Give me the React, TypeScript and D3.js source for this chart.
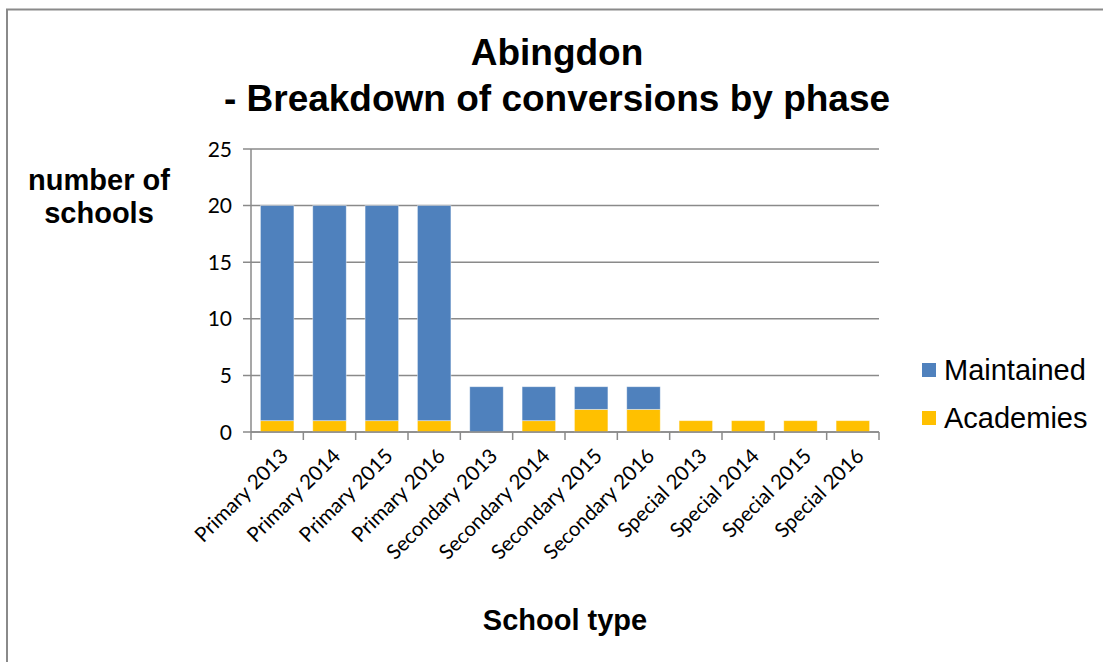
import React from "react";
import * as d3 from "d3";

const categories = [
  "Primary 2013", "Primary 2014", "Primary 2015", "Primary 2016",
  "Secondary 2013", "Secondary 2014", "Secondary 2015", "Secondary 2016",
  "Special 2013", "Special 2014", "Special 2015", "Special 2016",
];
const academies = [1, 1, 1, 1, 0, 1, 2, 2, 1, 1, 1, 1];
const maintained = [19, 19, 19, 19, 4, 3, 2, 2, 0, 0, 0, 0];
const yTicks = [0, 5, 10, 15, 20, 25];
const seriesNames = ["Maintained", "Academies"];
const seriesColors = ["#4F81BD", "#FFC000"];

const W = 1103, H = 662;
const plot = { left: 251, right: 879, top: 149, bottom: 432 };
const GRID = "#8a8a8a";
const ARIAL = "Liberation Sans, Arial, sans-serif";
const TICKFONT = "Lato, Carlito, sans-serif";

export default function App() {
  const x = d3.scaleBand<string>()
    .domain(categories)
    .range([plot.left, plot.right])
    .paddingInner(0.36)
    .paddingOuter(0.18);
  const y = d3.scaleLinear().domain([0, 25]).range([plot.bottom, plot.top]);

  const stackData = categories.map((c, i) => ({ cat: c, Academies: academies[i], Maintained: maintained[i] }));
  const stack = d3.stack<any>().keys(["Academies", "Maintained"])(stackData);
  const colorOf: Record<string, string> = { Maintained: seriesColors[0], Academies: seriesColors[1] };

  const boundaries = d3.range(categories.length + 1).map((i) => plot.left + i * ((plot.right - plot.left) / categories.length));

  return (
    <svg width={W} height={H} style={{ position: "absolute", left: 0, top: 0, background: "#fff" }}>
      <rect x={0} y={0} width={W} height={H} fill="#fff" />
      <rect x={7} y={9.5} width={1300} height={1000} fill="none" stroke={GRID} strokeWidth={2} />
      {/* Title */}
      <text x={557} y={65} textAnchor="middle" fontFamily={ARIAL} fontWeight="bold" fontSize={37}>Abingdon</text>
      <text x={557} y={111} textAnchor="middle" fontFamily={ARIAL} fontWeight="bold" fontSize={37}>- Breakdown of conversions by phase</text>

      {/* Gridlines + y ticks */}
      {yTicks.map((t) => (
        <g key={t}>
          <line x1={plot.left - 8} x2={plot.right} y1={y(t)} y2={y(t)} stroke={GRID} strokeWidth={1.5} />
          <text x={232} y={y(t)} dy="0.36em" textAnchor="end" fontFamily={TICKFONT} fontSize={21} fill="#000">{t}</text>
        </g>
      ))}
      {/* Y axis line */}
      <line x1={plot.left} x2={plot.left} y1={plot.top} y2={plot.bottom} stroke={GRID} strokeWidth={1.5} />

      {/* Bars */}
      {stack.map((s) => (
        <g key={s.key} fill={colorOf[s.key]}>
          {s.map((d, i) => (d[1] - d[0] > 0 ? (
            <rect key={i} x={x(categories[i])!} width={x.bandwidth()} y={y(d[1])} height={y(d[0]) - y(d[1])} stroke="#ffffff" strokeOpacity={0.5} strokeWidth={0.8} />
          ) : null))}
        </g>
      ))}

      {/* X axis */}
      <line x1={plot.left} x2={plot.right} y1={plot.bottom} y2={plot.bottom} stroke={GRID} strokeWidth={1.5} />
      {boundaries.map((bx, i) => (
        <line key={i} x1={bx} x2={bx} y1={plot.bottom} y2={plot.bottom + 8} stroke={GRID} strokeWidth={1.5} />
      ))}
      {categories.map((c) => {
        const cx = x(c)! + x.bandwidth() / 2;
        return (
          <text key={c} transform={`translate(${cx + 7},${plot.bottom + 20}) rotate(-45)`} textAnchor="end" dy="0.36em"
            fontFamily={TICKFONT} fontSize={20.5} fill="#000">{c}</text>
        );
      })}

      {/* Axis titles */}
      <text x={99} y={190} textAnchor="middle" fontFamily={ARIAL} fontWeight="bold" fontSize={29}>number of</text>
      <text x={99} y={223} textAnchor="middle" fontFamily={ARIAL} fontWeight="bold" fontSize={29}>schools</text>
      <text x={565} y={630} textAnchor="middle" fontFamily={ARIAL} fontWeight="bold" fontSize={29}>School type</text>

      {/* Legend */}
      {seriesNames.map((n, i) => (
        <g key={n} transform={`translate(922,${370 + i * 48})`}>
          <rect x={0} y={-7} width={14} height={14} fill={seriesColors[i]} />
          <text x={22} y={0} dy="0.36em" fontFamily={ARIAL} fontSize={29}>{n}</text>
        </g>
      ))}
    </svg>
  );
}
